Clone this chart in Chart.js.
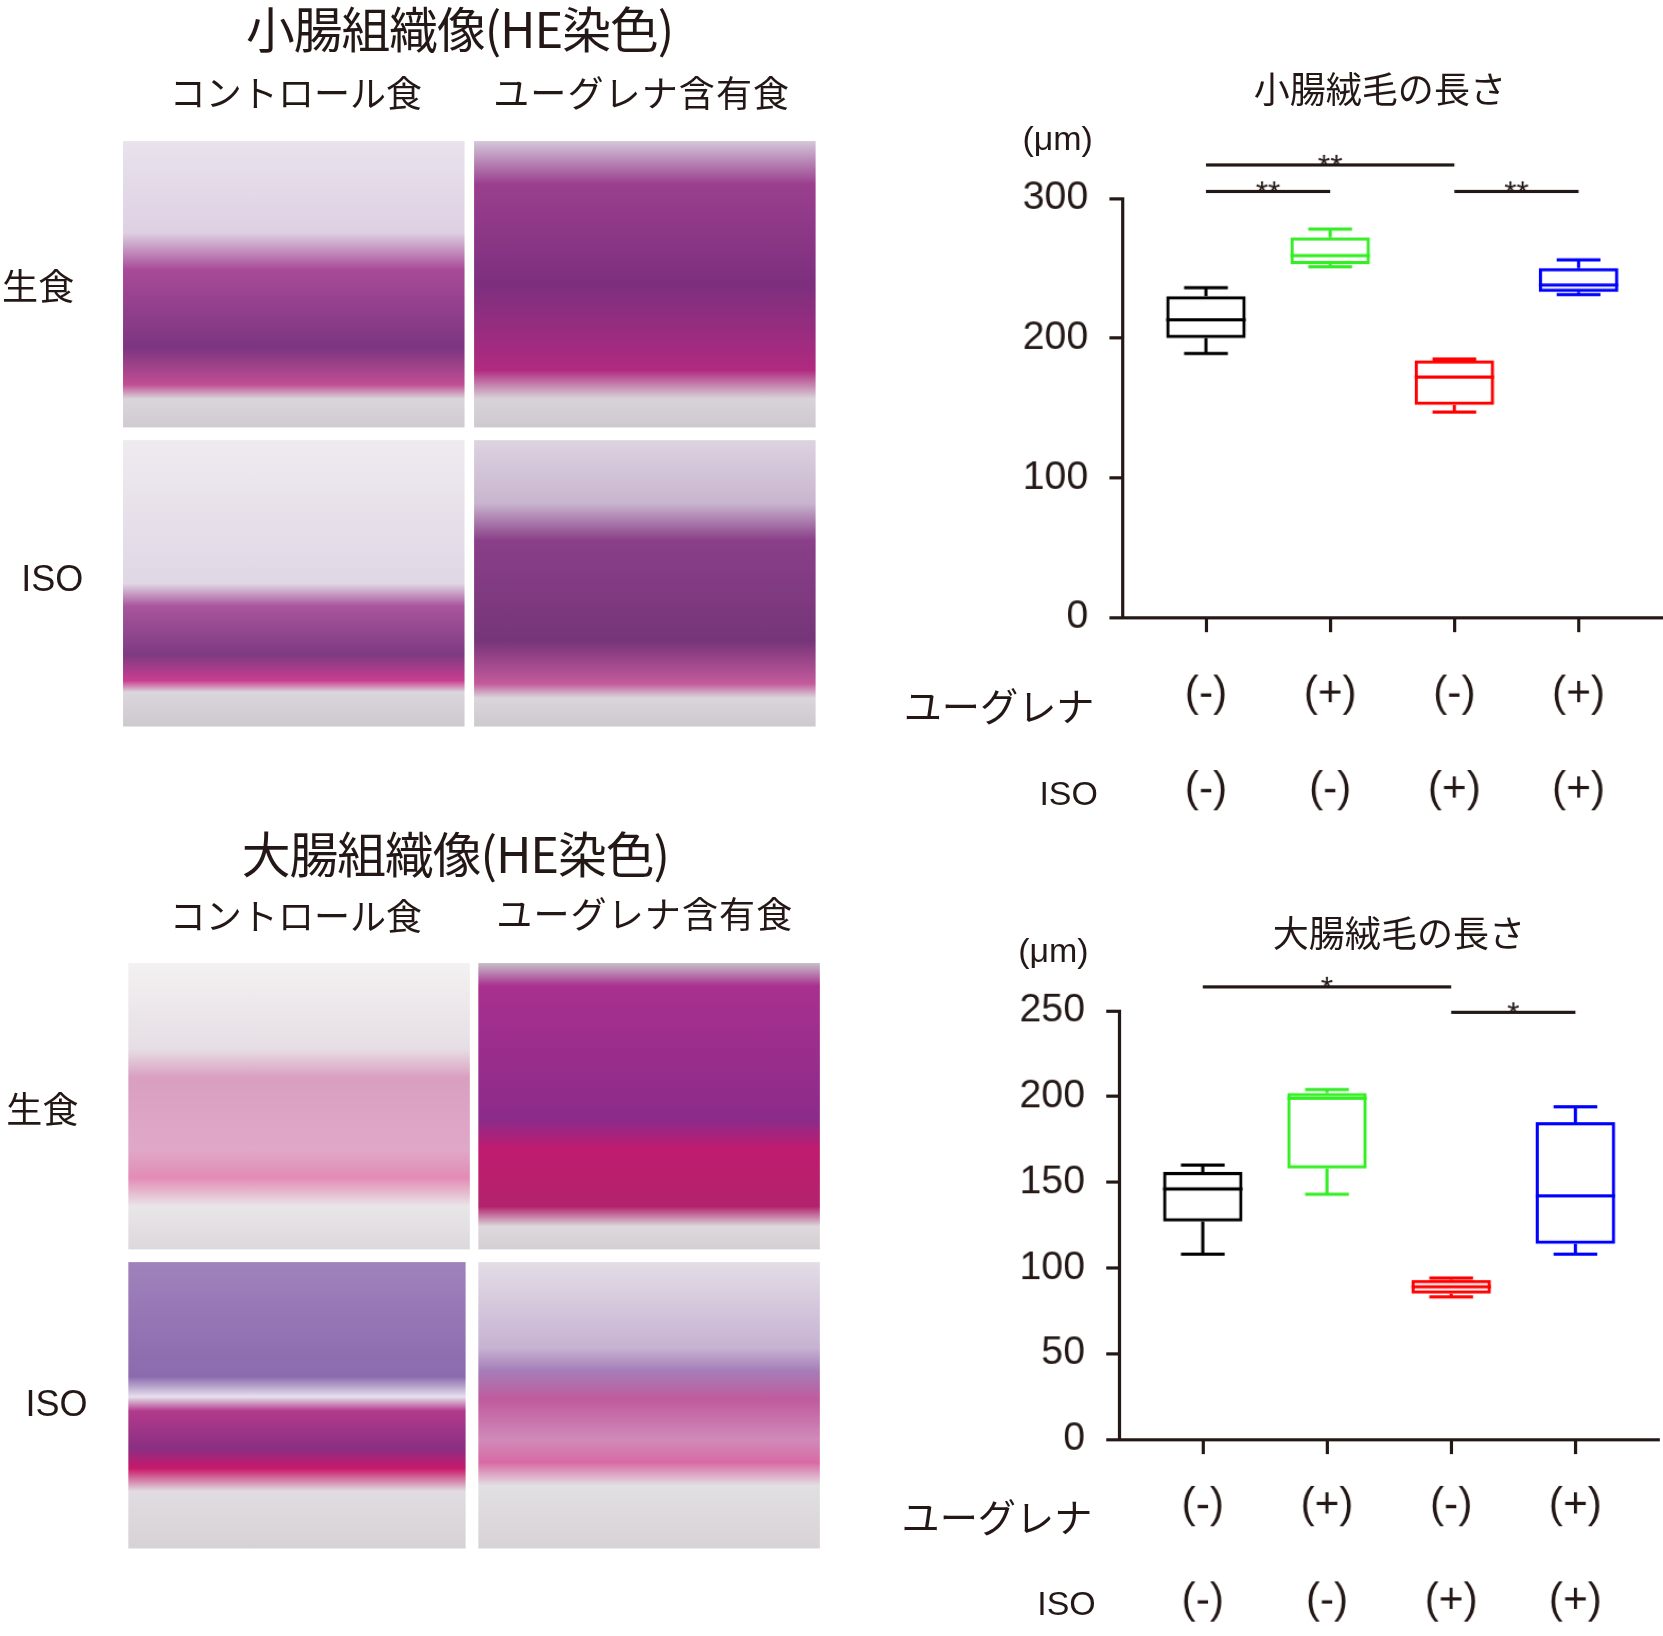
<!DOCTYPE html>
<html>
<head>
<meta charset="UTF-8">
<script src="https://cdn.jsdelivr.net/npm/chart.js"></script>
<style>
  html, body { margin: 0; background: #fff; }
  #page { position: absolute; left: 0; top: 0; width: 1568px; height: 1548px; transform: scale(1.0606); transform-origin: 0 0; font-family: "Noto Sans CJK JP", sans-serif; color: #231815; }
  .t { position: absolute; white-space: nowrap; }
  .img { position: absolute; }
  canvas { position: absolute; }
</style>
</head>
<body>
<div id="page">
  <div class="t" style="left:232px;top:-8px;font-size:46px;letter-spacing:-1px">小腸組織像(HE染色)</div>
  <div class="t" style="left:160px;top:62px;font-size:34px">コントロール食</div>
  <div class="t" style="left:465px;top:62px;font-size:34px;letter-spacing:1px">ユーグレナ含有食</div>
  <div class="t" style="left:2px;top:244px;font-size:34px">生食</div>
  <div class="t" style="left:20px;top:526px;font-size:34px;font-family:'Liberation Sans',Arial">ISO</div>

  <div class="t" style="left:228px;top:770px;font-size:46px;letter-spacing:-1px">大腸組織像(HE染色)</div>
  <div class="t" style="left:160px;top:838px;font-size:34px">コントロール食</div>
  <div class="t" style="left:468px;top:836px;font-size:34px;letter-spacing:1px">ユーグレナ含有食</div>
  <div class="t" style="left:6px;top:1020px;font-size:34px">生食</div>
  <div class="t" style="left:24px;top:1304px;font-size:34px;font-family:'Liberation Sans',Arial">ISO</div>

  <div class="img" style="left:116px;top:133px;width:322px;height:270px;background:linear-gradient(180deg,#e9e3ec 0%,#ddd0e3 32%,#a84a98 45%,#7c3580 72%,#c04e93 85%,#d9d5da 90%,#cfcbd0 100%)"></div>
  <div class="img" style="left:447px;top:133px;width:322px;height:270px;background:linear-gradient(180deg,#d4c7da 0%,#9a3f8e 15%,#7d2f7e 50%,#b02a80 80%,#d8d3d8 90%,#cdc9ce 100%)"></div>
  <div class="img" style="left:116px;top:415px;width:322px;height:270px;background:linear-gradient(180deg,#efeaf0 0%,#e0d7e4 50%,#a8559c 58%,#7e3a82 75%,#c93e8f 84%,#dad6dc 88%,#cdc9ce 100%)"></div>
  <div class="img" style="left:447px;top:415px;width:322px;height:270px;background:linear-gradient(180deg,#dcd3e0 0%,#c9b5cf 22%,#8a3f88 35%,#763579 70%,#c35a9b 85%,#d9d5da 90%,#cdc9ce 100%)"></div>

  <div class="img" style="left:121px;top:908px;width:322px;height:270px;background:linear-gradient(180deg,#f3f1f2 0%,#e6dee4 30%,#d99fc0 40%,#e0a8c8 65%,#e28cb5 75%,#e9e6e8 85%,#dcd8db 100%)"></div>
  <div class="img" style="left:451px;top:908px;width:322px;height:270px;background:linear-gradient(180deg,#c6c0c9 0%,#a8308e 8%,#8c2b8a 55%,#c01b6e 65%,#b2236c 85%,#dcd8db 92%,#d3cfd2 100%)"></div>
  <div class="img" style="left:121px;top:1190px;width:318px;height:270px;background:linear-gradient(180deg,#9f82bb 0%,#8c6aae 40%,#e6e0ec 47%,#b23a8c 52%,#8a2f82 65%,#c8186a 72%,#e0dce0 80%,#d6d2d6 100%)"></div>
  <div class="img" style="left:451px;top:1190px;width:322px;height:270px;background:linear-gradient(180deg,#e3dde6 0%,#c6b2d2 30%,#a57db8 38%,#c05b9d 48%,#d08ab9 62%,#d96aa5 70%,#e2dfe2 78%,#d7d3d7 100%)"></div>

  <div class="t" style="left:1182px;top:58px;font-size:34px">小腸絨毛の長さ</div>
  <div class="t" style="left:964px;top:112px;font-size:32px;font-family:'Liberation Sans',Arial">(μm)</div>
  <div class="t" style="left:852px;top:638px;font-size:36px">ユーグレナ</div>
  <div class="t" style="left:980px;top:730px;font-size:32px;font-family:'Liberation Sans',Arial">ISO</div>

  <div class="t" style="left:1200px;top:854px;font-size:34px">大腸絨毛の長さ</div>
  <div class="t" style="left:960px;top:878px;font-size:32px;font-family:'Liberation Sans',Arial">(μm)</div>
  <div class="t" style="left:850px;top:1402px;font-size:36px">ユーグレナ</div>
  <div class="t" style="left:978px;top:1494px;font-size:32px;font-family:'Liberation Sans',Arial">ISO</div>

  <canvas id="c1" style="left:930px;top:120px;width:638px;height:680px"></canvas>
  <canvas id="c2" style="left:927px;top:880px;width:638px;height:700px"></canvas>
</div>
<script>
const groups = [['(-)', '(-)'], ['(+)', '(-)'], ['(-)', '(+)'], ['(+)', '(+)']];
const boxColors = ['#000000', '#33ee22', '#ff0000', '#0000ff'];

// small intestine villus length (μm)
const smallMin = [189, 251, 147, 231];
const smallQ1  = [200, 253, 152, 233];
const smallMed = [213, 259, 172, 238];
const smallQ3  = [230, 272, 184, 250];
const smallMax = [236, 278, 185, 256];
const smallSig = [[0, 2, 324, '**'], [0, 1, 305, '**'], [2, 3, 305, '**']];

// large intestine villus length (μm)
const largeMin = [108, 143, 83, 108];
const largeQ1  = [127, 158, 85, 114];
const largeMed = [146, 199, 89, 142];
const largeQ3  = [156, 202, 93, 185];
const largeMax = [160, 204, 94, 194];
const largeSig = [[0, 2, 264, '*'], [2, 3, 249, '*']];

const boxPlugin = {
  id: 'boxes',
  afterDatasetsDraw(chart, args, o) {
    const ctx = chart.ctx, x = chart.scales.x, y = chart.scales.y;
    const meta = chart.getDatasetMeta(0);
    ctx.save();
    ctx.lineWidth = 3;
    o.med.forEach((m, i) => {
      const cx = x.getPixelForValue(i), hw = meta.data[i].width / 2, cw = hw * 0.55;
      ctx.strokeStyle = boxColors[i];
      ctx.beginPath();
      ctx.moveTo(cx - hw, y.getPixelForValue(m)); ctx.lineTo(cx + hw, y.getPixelForValue(m));
      ctx.moveTo(cx, y.getPixelForValue(o.q3[i])); ctx.lineTo(cx, y.getPixelForValue(o.max[i]));
      ctx.moveTo(cx, y.getPixelForValue(o.q1[i])); ctx.lineTo(cx, y.getPixelForValue(o.min[i]));
      ctx.moveTo(cx - cw, y.getPixelForValue(o.max[i])); ctx.lineTo(cx + cw, y.getPixelForValue(o.max[i]));
      ctx.moveTo(cx - cw, y.getPixelForValue(o.min[i])); ctx.lineTo(cx + cw, y.getPixelForValue(o.min[i]));
      ctx.stroke();
    });
    ctx.strokeStyle = '#231815'; ctx.fillStyle = '#231815';
    ctx.font = '30px "Liberation Sans", Arial';
    ctx.textAlign = 'center'; ctx.textBaseline = 'middle';
    o.sig.forEach(s => {
      const x1 = x.getPixelForValue(s[0]), x2 = x.getPixelForValue(s[1]), yy = y.getPixelForValue(s[2]);
      ctx.beginPath(); ctx.moveTo(x1, yy); ctx.lineTo(x2, yy); ctx.stroke();
      ctx.fillText(s[3], (x1 + x2) / 2, yy + 2);
    });
    ctx.restore();
  }
};

function makeChart(id, mn, q1, md, q3, mx, sig, yMax, step, padTop, xH, xPad) {
  new Chart(document.getElementById(id), {
    type: 'bar',
    data: {
      datasets: [{
        data: q1.map((v, i) => ({ x: i, y: [v, q3[i]] })),
        backgroundColor: 'rgba(0,0,0,0)',
        borderColor: boxColors,
        borderWidth: 3,
        borderSkipped: false,
        categoryPercentage: 1,
        barPercentage: 0.64
      }]
    },
    options: {
      responsive: false,
      animation: false,
      layout: { padding: { top: padTop, right: 0 } },
      plugins: {
        legend: { display: false }, tooltip: { enabled: false },
        boxes: { min: mn, q1: q1, med: md, q3: q3, max: mx, sig: sig }
      },
      scales: {
        x: {
          type: 'linear', min: -0.675, max: 3.68, offset: false,
          afterBuildTicks(s) { s.ticks = groups.map((g, i) => ({ value: i })); },
          grid: { offset: false, drawOnChartArea: false, tickLength: 14, tickWidth: 3, color: '#231815' },
          border: { width: 3, color: '#231815' },
          ticks: {
            callback: v => groups[v], maxRotation: 0,
            color: '#231815', padding: xPad, font: { size: 40, family: '"Liberation Sans", Arial', lineHeight: 2.25 }
          },
          afterFit(s) { s.height = xH; }
        },
        y: {
          min: 0, max: yMax,
          grid: { drawOnChartArea: false, tickLength: 12, tickWidth: 3, color: '#231815' },
          border: { width: 3, color: '#231815' },
          ticks: { stepSize: step, color: '#231815', padding: 20, font: { size: 37, family: '"Liberation Sans", Arial' } },
          afterFit(s) { s.width = 128; }
        }
      }
    },
    plugins: [boxPlugin]
  });
}

function sizeCanvas(id) {
  const c = document.getElementById(id);
  c.width = parseInt(c.style.width); c.height = parseInt(c.style.height);
}
sizeCanvas('c1'); sizeCanvas('c2');
makeChart('c1', smallMin, smallQ1, smallMed, smallQ3, smallMax, smallSig, 300, 100, 67, 218, 14);
makeChart('c2', largeMin, largeQ1, largeMed, largeQ3, largeMax, largeSig, 250, 50, 73, 223, 4);
</script>
</body>
</html>
